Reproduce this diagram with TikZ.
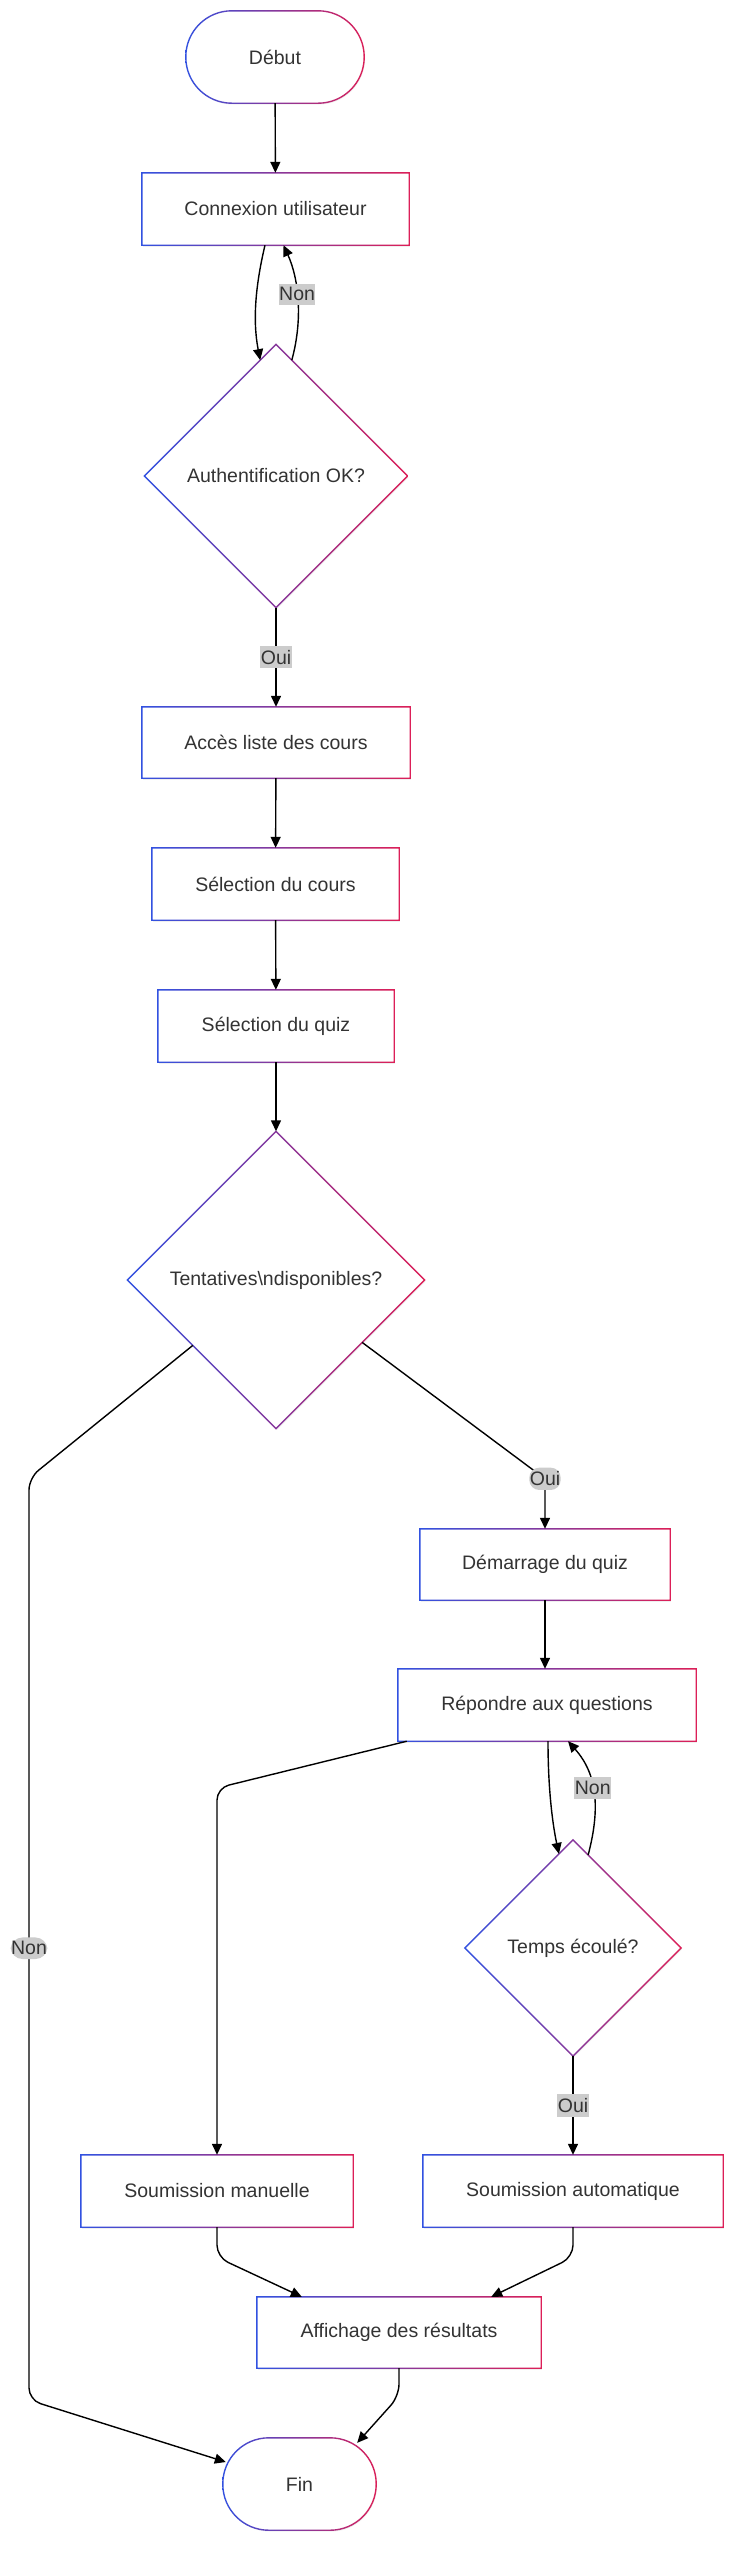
\documentclass[tikz,border=0pt]{standalone}
\usepackage{fontspec}
\setmainfont{Liberation Sans}
\usepackage{tikz}
\usetikzlibrary{arrows.meta}
\usetikzlibrary{shapes.geometric,calc,shadows}
\definecolor{bordblue}{RGB}{48,82,226}
\definecolor{bordred}{RGB}{222,30,86}
\definecolor{inkgray}{RGB}{51,51,51}
\tikzset{
    base/.style={
        fill=white,
        inner sep=0pt,
        text=inkgray,
        font=\fontsize{19.5}{23}\selectfont,
        drop shadow={opacity=0.12, shadow xshift=1pt, shadow yshift=-1.5pt}
    },
    stepbox/.style={base, rectangle, minimum height=72pt},
    decision/.style={base, diamond, aspect=1},
    terminal/.style={base, rectangle, rounded corners=46pt, minimum height=92pt},
    flow/.style={
        draw,
        line width=1.4pt,
        -{Triangle[length=11pt, width=10pt]}
    },
    tag/.style={
        fill=gray!40,
        text=inkgray,
        inner xsep=0.5pt,
        inner ysep=4pt,
        font=\fontsize{19.5}{23}\selectfont
    }
}
% gradient borders (blue on the left, red on the right)
\newcommand{\gradbox}[1]{%
  \begin{scope}[even odd rule]
    \clip
      ($(#1.north west)+(-0.7,-0.7)$) rectangle ($(#1.south east)+(0.7,0.7)$)
      ($(#1.north west)+(0.7,0.7)$) rectangle ($(#1.south east)+(-0.7,-0.7)$);
    \shade[left color=bordblue, right color=bordred]
      ($(#1.north west)+(-3,-3)$) rectangle ($(#1.south east)+(3,3)$);
  \end{scope}}
\newcommand{\graddiamond}[1]{%
  \begin{scope}[even odd rule]
    \clip
      ($(#1.north)+(0,-1)$) -- ($(#1.east)+(1,0)$) -- ($(#1.south)+(0,1)$) -- ($(#1.west)+(-1,0)$) -- cycle
      ($(#1.north)+(0,1)$) -- ($(#1.east)+(-1,0)$) -- ($(#1.south)+(0,-1)$) -- ($(#1.west)+(1,0)$) -- cycle;
    \shade[left color=bordblue, right color=bordred]
      ($(#1.west |- #1.north)+(-3,-3)$) rectangle ($(#1.east |- #1.south)+(3,3)$);
  \end{scope}}
\newcommand{\gradpill}[1]{%
  \begin{scope}[even odd rule, rounded corners=46.7pt]
    \clip
      ($(#1.north west)+(-0.7,-0.7)$) rectangle ($(#1.south east)+(0.7,0.7)$)
      [rounded corners=45.3pt]
      ($(#1.north west)+(0.7,0.7)$) rectangle ($(#1.south east)+(-0.7,-0.7)$);
    \shade[left color=bordblue, right color=bordred, sharp corners]
      ($(#1.north west)+(-3,-3)$) rectangle ($(#1.south east)+(3,3)$);
  \end{scope}}

\begin{document}
\begin{tikzpicture}[x=1pt, y=-1pt]
  \path[use as bounding box, fill=white] (0,0) rectangle (737,2560);

  % Steps
  \node[terminal, minimum width=178pt] (debut) at (275,57) {Début};
  \node[stepbox, minimum width=267pt] (conn) at (275.5,209) {Connexion utilisateur};
  \node[decision, minimum width=263pt, minimum height=263pt] (auth) at (276,476) {Authentification OK?};
  \node[stepbox, minimum width=268pt, minimum height=71pt] (liste) at (276,742.5) {Accès liste des cours};
  \node[stepbox, minimum width=247pt] (cours) at (275.5,884) {Sélection du cours};
  \node[stepbox, minimum width=236pt] (quiz) at (276,1026) {Sélection du quiz};
  \node[decision, minimum width=297pt, minimum height=297pt] (tent) at (276,1280) {Tentatives\textbackslash ndisponibles?};
  \node[stepbox, minimum width=250pt, minimum height=71pt] (demar) at (545,1564.5) {Démarrage du quiz};
  \node[stepbox, minimum width=298pt] (repond) at (547,1705) {Répondre aux questions};
  \node[decision, minimum width=216pt, minimum height=216pt] (temps) at (573,1948) {Temps écoulé?};
  \node[stepbox, minimum width=272pt] (manu) at (217,2191) {Soumission manuelle};
  \node[stepbox, minimum width=300pt] (auto) at (573,2191) {Soumission automatique};
  \node[stepbox, minimum width=284pt, minimum height=71pt] (resu) at (399,2332.5) {Affichage des résultats};
  \node[terminal, minimum width=153pt] (fin) at (299.5,2484) {Fin};

  % Borders
  \foreach \n in {conn,liste,cours,quiz,demar,repond,manu,auto,resu} {\gradbox{\n}}
  \foreach \n in {auth,tent,temps} {\graddiamond{\n}}
  \foreach \n in {debut,fin} {\gradpill{\n}}

  % Edges
  \draw[flow] (debut) -- (conn);
  \draw[flow] ($(conn.south)+(-10.5,0)$) .. controls ($(conn.south)+(-20,40)$) and ($(conn.south)+(-23,75)$) .. ($(auth.north)!0.12!(auth.west)$);
  \draw[flow] ($(auth.north)!0.12!(auth.east)$) .. controls ($(auth.north)+(27,-25)$) and ($(auth.north)+(23,-65)$) .. ($(conn.south)+(8,0)$) node[tag, pos=0.55] {Non};
  \draw[flow] (auth) -- node[tag] {Oui} (liste);
  \draw[flow] (liste) -- (cours);
  \draw[flow] (cours) -- (quiz);
  \draw[flow] (quiz) -- (tent);
  \draw[flow, rounded corners=10pt] ($(tent.east)!0.42!(tent.south)$) -- ($(demar.north)+(0,-50)$) node[tag] {Oui} -- (demar.north);
  \draw[flow, rounded corners=12pt] ($(tent.west)!0.44!(tent.south)$) -- (29,1478) -- (29,2400) node[tag, pos=0.51] {Non} -- ($(fin.west)+(3,-22)$);
  \draw[flow] (demar.south) -- (demar.south |- repond.north);
  \draw[flow, rounded corners=12pt] ($(repond.south west)+(9,0)$) -- (217,1788) -- (manu.north);
  \draw[flow] ($(repond.south)+(1,0)$) .. controls ($(repond.south)+(1,50)$) and ($(repond.south)+(6,85)$) .. ($(temps.north)!0.13!(temps.west)$);
  \draw[flow] ($(temps.north)!0.14!(temps.east)$) .. controls ($(temps.north)+(27,-30)$) and ($(temps.north)+(25,-65)$) .. ($(repond.south)+(21,0)$) node[tag, pos=0.55] {Non};
  \draw[flow] (temps) -- node[tag] {Oui} (auto);
  \draw[flow, rounded corners=12pt] (manu.south) -- ++(0,30) -- ($(resu.north west)+(45,0)$);
  \draw[flow, rounded corners=12pt] (auto.south) -- ++(0,30) -- ($(resu.north east)+(-50,0)$);
  \draw[flow, rounded corners=12pt] (resu.south) -- ++(0,28) -- ($(fin.north east)+(-19,5)$);
\end{tikzpicture}
\end{document}
